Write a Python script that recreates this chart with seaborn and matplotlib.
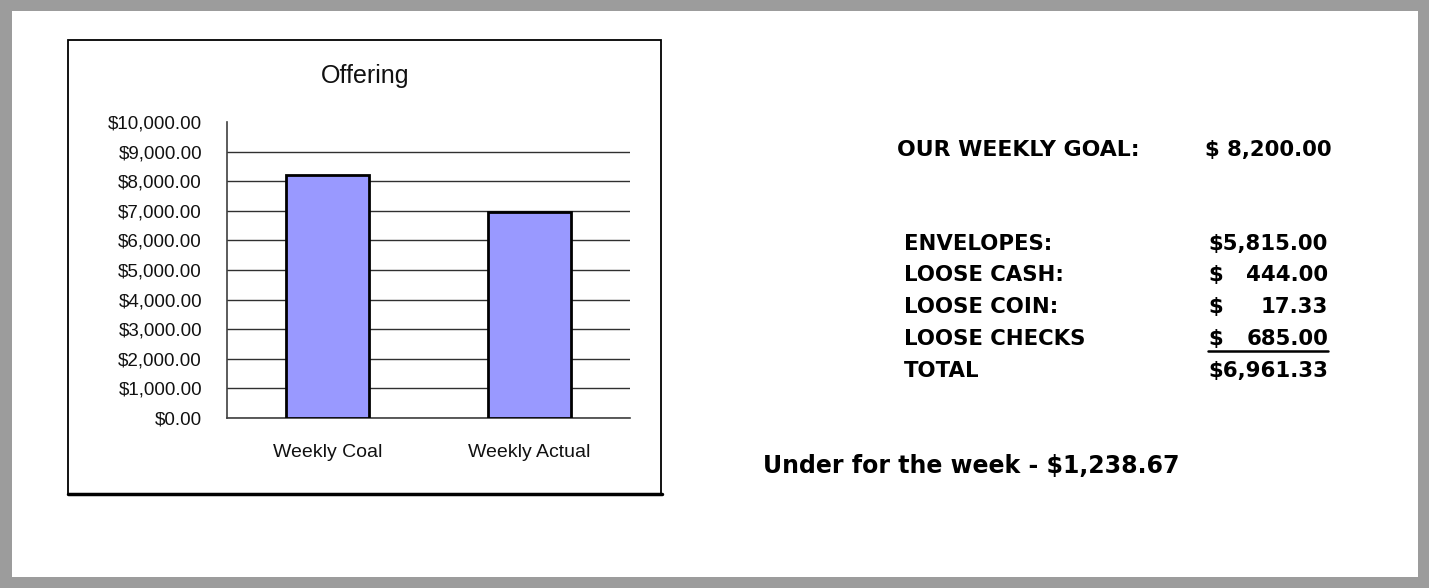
import matplotlib
matplotlib.use("Agg")
import matplotlib.pyplot as plt
import seaborn as sns
from matplotlib.patches import Rectangle
from matplotlib.lines import Line2D
from matplotlib.ticker import FuncFormatter

# chart data
categories = ["Weekly Coal", "Weekly Actual"]
offering = [8200.00, 6961.33]

# summary table
goal_label = "OUR WEEKLY GOAL:"
goal_value = 8200.00
row_labels = ["ENVELOPES:", "LOOSE CASH:", "LOOSE COIN:", "LOOSE CHECKS", "TOTAL"]
row_values = [5815.00, 444.00, 17.33, 685.00, 6961.33]
under_value = 1238.67

W, H = 1429, 588


def px(x, y):
    # pixel position (from top left) -> figure fraction
    return x / W, 1 - y / H


sns.set_style("white")
plt.rcParams["font.family"] = ["Liberation Sans", "DejaVu Sans"]

fig = plt.figure(figsize=(W / 100, H / 100), dpi=100)
fig.patch.set_facecolor("#9c9c9c")

# white page inside the grey frame
x0, y0 = px(12, 577)
fig.patches.append(Rectangle((x0, y0), (1418 - 12) / W, (577 - 11) / H,
                             transform=fig.transFigure, facecolor="white",
                             edgecolor="none", zorder=0))

# chart box
bx, by = px(68, 494)
fig.patches.append(Rectangle((bx, by), (661 - 68) / W, (494 - 40) / H,
                             transform=fig.transFigure, facecolor="white",
                             edgecolor="black", linewidth=1.3, zorder=1))
fig.lines.append(Line2D([68 / W, 662 / W], [by, by], transform=fig.transFigure,
                        color="black", linewidth=2.5, zorder=2))

ax = fig.add_axes([227 / W, 1 - 418 / H, (630 - 227) / W, (418 - 122) / H])
ax.set_zorder(3)
ax.patch.set_alpha(0)

sns.barplot(x=categories, y=offering, color="#9999ff", edgecolor="black",
            linewidth=2, width=0.41, saturation=1, ax=ax, zorder=3)

ax.set_xlim(-0.5, 1.5)
ax.set_ylim(0, 10000)
ax.set_yticks(range(0, 10001, 1000))
ax.yaxis.set_major_formatter(FuncFormatter(lambda v, p: f"${v:,.2f}"))
ax.grid(axis="y", color="#303030", linewidth=1)
ax.get_ygridlines()[-1].set_visible(False)
ax.set_axisbelow(True)
for s in ["top", "right"]:
    ax.spines[s].set_visible(False)
for s in ["left", "bottom"]:
    ax.spines[s].set_color("#404040")
    ax.spines[s].set_linewidth(1.2)
ax.tick_params(axis="y", length=0, pad=18, labelsize=13.5, labelcolor="#111111")
ax.tick_params(axis="x", length=0, pad=19, labelsize=14, labelcolor="#111111")
ax.set_xlabel("")
ax.set_ylabel("")

tx, ty = px(365, 76)
fig.text(tx, ty, "Offering", ha="center", va="center", fontsize=18, color="#111111")

# right-hand summary
bold = dict(family="DejaVu Sans", fontweight="bold", fontsize=15.3, va="center",
            color="black")

fig.text(*px(897, 150), goal_label, ha="left", fontsize=15.8,
         **{k: v for k, v in bold.items() if k != "fontsize"})
fig.text(*px(1332, 150), f"$ {goal_value:,.2f}", ha="right", **bold)

row_y = [244, 275, 307, 339, 371]
for lab, val, y in zip(row_labels, row_values, row_y):
    fig.text(*px(904, y), lab, ha="left", **bold)
    if val >= 1000:
        fig.text(*px(1328, y), f"${val:,.2f}", ha="right", **bold)
    else:
        fig.text(*px(1208, y), "$", ha="left", **bold)
        fig.text(*px(1328, y), f"{val:,.2f}", ha="right", **bold)

ux, uy = px(1208, 351)
fig.lines.append(Line2D([ux, 1328 / W], [uy, uy], transform=fig.transFigure,
                        color="black", linewidth=1.8))

fig.text(*px(763, 466), f"Under for the week - ${under_value:,.2f}", ha="left",
         family="DejaVu Sans", fontweight="bold", fontsize=17, va="center",
         color="black")

fig.savefig("out.png", dpi=100, facecolor=fig.get_facecolor())
